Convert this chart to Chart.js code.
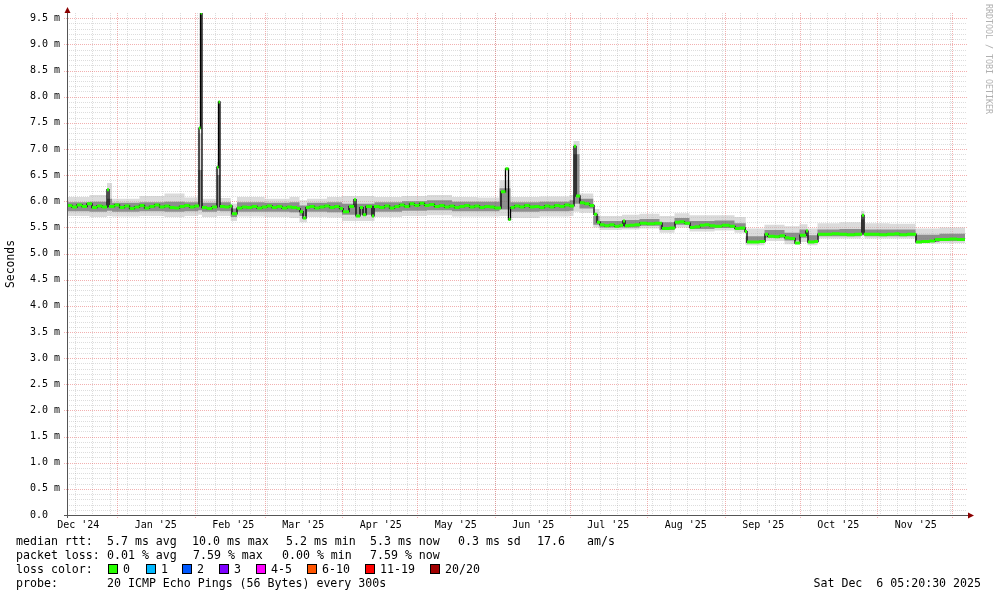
<!DOCTYPE html>
<html>
<head>
<meta charset="utf-8">
<script src="https://cdn.jsdelivr.net/npm/chart.js@4.4.1/dist/chart.umd.min.js"></script>
<style>
  html, body { margin: 0; padding: 0; background: #fff; }
  #wrap { width: 997px; height: 597px; }
</style>
</head>
<body>
<div id="wrap"><canvas id="rtt" width="997" height="597"></canvas></div>
<script>
// x values are days since 1 Dec 2024 (00:00)
const days = [
  11, 13, 15, 17, 19, 21, 23, 25, 27, 27.8,
  30, 32, 34, 36, 38, 40, 42, 44, 46, 48,
  50, 52, 54, 56, 58, 60, 62, 63.8, 64.4, 65,
  67, 69, 71, 71.6, 72.2, 74, 76, 77, 79, 81,
  83, 85, 87, 89, 91, 93, 95, 97, 99, 101,
  103, 104.2, 105.4, 106.6, 108, 110, 112, 114, 116, 118,
  120, 121.4, 123.8, 125.8, 126.6, 128.2, 129.4, 130.6, 133, 133.8,
  136, 138, 140, 142, 144, 146, 148, 150, 152, 154,
  156, 158, 160, 162, 164, 166, 168, 170, 172, 174,
  176, 178, 180, 182, 184.6, 186.4, 187.6, 188.4, 190, 192,
  194, 196, 198, 200, 202, 204, 206, 208, 210, 212,
  213.8, 214.6, 216.2, 218, 220, 221.8, 223, 224.2, 226, 228,
  230, 232, 233.4, 234.2, 236, 238, 240.2, 243, 246, 249,
  252, 254.2, 256, 258, 260.2, 262, 264.2, 266, 268, 270.2,
  273, 276, 278.2, 280, 282.2, 283, 286, 288, 290.2, 291.4,
  294, 296, 298.2, 300, 302.2, 304.2, 306.6, 307.4, 310, 311.4,
  314, 317, 320, 323, 326, 329, 329.8, 333, 336, 339,
  342, 344, 347, 350.6, 353, 356, 358.2, 361, 364, 367,
  370.2
];
// median rtt in ms
const medianMs = [
  5.92, 5.89, 5.93, 5.90, 5.95, 5.88, 5.91, 5.89, 6.22, 5.90,
  5.93, 5.88, 5.91, 5.86, 5.89, 5.92, 5.87, 5.90, 5.93, 5.89,
  5.91, 5.88, 5.87, 5.90, 5.92, 5.89, 5.91, 7.40, 9.60, 5.88,
  5.86, 5.89, 6.65, 7.90, 5.90, 5.89, 5.91, 5.76, 5.87, 5.89,
  5.88, 5.90, 5.87, 5.89, 5.91, 5.88, 5.90, 5.87, 5.89, 5.88,
  5.86, 5.80, 5.68, 5.88, 5.90, 5.87, 5.89, 5.91, 5.88, 5.90,
  5.86, 5.80, 5.90, 6.03, 5.72, 5.88, 5.74, 5.90, 5.72, 5.90,
  5.88, 5.91, 5.87, 5.90, 5.93, 5.90, 5.95, 5.92, 5.96, 5.92,
  5.94, 5.90, 5.92, 5.89, 5.91, 5.88, 5.90, 5.92, 5.89, 5.91,
  5.88, 5.90, 5.89, 5.87, 6.18, 6.62, 5.65, 5.88, 5.91, 5.89,
  5.92, 5.89, 5.90, 5.88, 5.91, 5.89, 5.92, 5.90, 5.93, 5.91,
  7.05, 6.10, 5.97, 5.95, 5.92, 5.75, 5.60, 5.55, 5.53, 5.55,
  5.52, 5.54, 5.62, 5.53, 5.54, 5.55, 5.58, 5.57, 5.58, 5.48,
  5.49, 5.60, 5.61, 5.58, 5.50, 5.51, 5.54, 5.55, 5.53, 5.52,
  5.54, 5.52, 5.48, 5.49, 5.42, 5.22, 5.22, 5.23, 5.37, 5.33,
  5.32, 5.34, 5.30, 5.29, 5.20, 5.35, 5.43, 5.22, 5.23, 5.37,
  5.37, 5.38, 5.37, 5.36, 5.37, 5.73, 5.37, 5.37, 5.36, 5.37,
  5.38, 5.36, 5.37, 5.22, 5.23, 5.24, 5.27, 5.27, 5.28, 5.27,
  5.27
];

// smoke (spread of the 20 pings), ms
const smokeDays = [
  11, 20, 27, 29, 40, 50, 58, 63.5, 65, 71,
  72.2, 76.5, 79, 90, 100, 104, 107, 115, 121, 134,
  145, 155, 165, 175, 184, 188.4, 200, 212, 213.6, 216,
  221.5, 224, 233, 240, 248, 254, 260, 270, 278, 282.5,
  290, 298, 304, 307.2, 311.2, 320, 328.6, 330, 340, 350.4,
  360, 370.2
];
const smokeMin = [
  5.72, 5.70, 5.72, 5.71, 5.72, 5.70, 5.72, 5.74, 5.70, 5.72,
  5.72, 5.62, 5.71, 5.70, 5.68, 5.60, 5.70, 5.69, 5.62, 5.70,
  5.72, 5.73, 5.71, 5.71, 5.72, 5.68, 5.71, 5.72, 5.80, 5.78,
  5.50, 5.45, 5.46, 5.48, 5.40, 5.50, 5.42, 5.44, 5.40, 5.16,
  5.24, 5.18, 5.22, 5.16, 5.29, 5.29, 5.33, 5.29, 5.29, 5.19,
  5.20, 5.20
];
const smokeLow = [
  5.81, 5.80, 5.82, 5.80, 5.81, 5.80, 5.81, 5.83, 5.80, 5.82,
  5.81, 5.70, 5.80, 5.80, 5.79, 5.72, 5.80, 5.79, 5.74, 5.80,
  5.82, 5.83, 5.81, 5.81, 5.84, 5.80, 5.81, 5.82, 5.95, 5.86,
  5.55, 5.50, 5.50, 5.53, 5.45, 5.55, 5.47, 5.49, 5.45, 5.20,
  5.30, 5.25, 5.30, 5.20, 5.33, 5.33, 5.40, 5.33, 5.33, 5.22,
  5.24, 5.24
];
const smokeHigh = [
  5.98, 5.99, 6.05, 5.97, 5.98, 5.99, 5.98, 6.60, 5.97, 6.50,
  5.98, 5.86, 5.98, 5.97, 5.98, 5.92, 5.97, 5.98, 5.95, 5.98,
  6.00, 6.02, 5.99, 5.99, 6.25, 5.98, 5.99, 6.02, 6.90, 6.05,
  5.72, 5.62, 5.64, 5.66, 5.60, 5.68, 5.62, 5.63, 5.58, 5.33,
  5.45, 5.40, 5.46, 5.35, 5.46, 5.47, 5.65, 5.46, 5.46, 5.36,
  5.38, 5.38
];
const smokeMax = [
  6.08, 6.12, 6.35, 6.05, 6.10, 6.15, 6.07, 7.30, 6.05, 6.75,
  6.06, 5.95, 6.08, 6.05, 6.08, 6.02, 6.05, 6.08, 6.10, 6.08,
  6.10, 6.12, 6.08, 6.07, 6.40, 6.08, 6.09, 6.12, 7.15, 6.15,
  5.85, 5.72, 5.74, 5.76, 5.72, 5.77, 5.73, 5.73, 5.70, 5.48,
  5.55, 5.52, 5.56, 5.48, 5.58, 5.60, 5.82, 5.58, 5.57, 5.48,
  5.50, 5.50
];

const monthStarts = [31, 62, 90, 121, 151, 182, 212, 243, 274, 304, 335, 365];
const labelDays = [15.5, 46.5, 77.5, 105.5, 136.5, 166.5, 197.5, 227.5, 258.5, 289.5, 319.5, 350.5];
const monthLabels = ["Dec '24", "Jan '25", "Feb '25", "Mar '25", "Apr '25", "May '25",
  "Jun '25", "Jul '25", "Aug '25", "Sep '25", "Oct '25", "Nov '25"];
const yTicks = [0, 0.5, 1, 1.5, 2, 2.5, 3, 3.5, 4, 4.5, 5, 5.5, 6, 6.5, 7, 7.5, 8, 8.5, 9, 9.5];
const yLabels = ['0.0  ', '0.5 m', '1.0 m', '1.5 m', '2.0 m', '2.5 m', '3.0 m', '3.5 m', '4.0 m', '4.5 m',
  '5.0 m', '5.5 m', '6.0 m', '6.5 m', '7.0 m', '7.5 m', '8.0 m', '8.5 m', '9.0 m', '9.5 m'];

const lossLabels = ['0', '1', '2', '3', '4-5', '6-10', '11-19', '20/20'];
const lossColors = ['#26ff00', '#00b8ff', '#0059ff', '#7e00ff', '#ff00ff', '#ff5500', '#ff0000', '#a10000'];

const MONO = '"DejaVu Sans Mono", monospace';

const pts = (xs, ys) => xs.map((d, i) => ({ x: d, y: ys[i] }));

// green loss-colour bars: only the flat part of each step
const greenPts = [];
for (let i = 0; i < days.length - 1; i++) {
  greenPts.push({ x: days[i], y: medianMs[i] }, { x: days[i + 1], y: medianMs[i] }, { x: days[i + 1], y: null });
}

const gridPlugin = {
  id: 'rrdGrid',
  beforeDatasetsDraw(chart) {
    const { ctx, chartArea: a, scales: { x, y } } = chart;
    ctx.save();
    ctx.lineWidth = 1;
    ctx.setLineDash([1, 1]);
    ctx.strokeStyle = 'rgba(150,150,150,0.32)';
    ctx.beginPath();
    for (let i = 1; i < 96; i++) {
      if (i % 5 === 0) continue;
      const py = Math.round(y.getPixelForValue(i / 10)) + 0.5;
      ctx.moveTo(a.left, py); ctx.lineTo(a.right, py);
    }
    for (let d = 14; d < x.max; d += 7) {
      const px = Math.round(x.getPixelForValue(d)) + 0.5;
      ctx.moveTo(px, a.top); ctx.lineTo(px, a.bottom);
    }
    ctx.stroke();

    ctx.strokeStyle = 'rgba(222,48,48,0.38)';
    ctx.beginPath();
    yTicks.forEach(v => {
      if (v === 0) return;
      const py = Math.round(y.getPixelForValue(v)) + 0.5;
      ctx.moveTo(a.left - 3, py); ctx.lineTo(a.right + 1, py);
    });
    monthStarts.forEach(d => {
      if (d <= x.min || d >= x.max) return;
      const px = Math.round(x.getPixelForValue(d)) + 0.5;
      ctx.moveTo(px, a.top); ctx.lineTo(px, a.bottom + 3);
    });
    ctx.stroke();
    ctx.restore();
  },
  afterDatasetsDraw(chart) {
    const { ctx, chartArea: a } = chart;
    ctx.save();
    ctx.setLineDash([]);
    ctx.lineWidth = 1;
    ctx.strokeStyle = '#555';
    ctx.beginPath();
    ctx.moveTo(a.left + 0.5, a.bottom + 3); ctx.lineTo(a.left + 0.5, 10);
    ctx.moveTo(a.left - 3, a.bottom + 0.5); ctx.lineTo(a.right + 3, a.bottom + 0.5);
    ctx.stroke();
    ctx.fillStyle = '#8b0000';
    ctx.beginPath();
    ctx.moveTo(a.left + 0.5, 7); ctx.lineTo(a.left - 2.5, 13); ctx.lineTo(a.left + 3.5, 13);
    ctx.closePath(); ctx.fill();
    ctx.beginPath();
    ctx.moveTo(a.right + 7, a.bottom + 0.5); ctx.lineTo(a.right + 1, a.bottom - 2.5); ctx.lineTo(a.right + 1, a.bottom + 3.5);
    ctx.closePath(); ctx.fill();
    ctx.restore();
  }
};

const textPlugin = {
  id: 'rrdText',
  afterDraw(chart) {
    const ctx = chart.ctx;
    ctx.save();
    ctx.fillStyle = '#000';

    // axis title
    ctx.save();
    ctx.translate(11, 264);
    ctx.rotate(-Math.PI / 2);
    ctx.font = '11.4px ' + MONO;
    ctx.textAlign = 'center';
    ctx.textBaseline = 'middle';
    ctx.fillText('Seconds', 0, 0);
    ctx.restore();

    // watermark
    ctx.save();
    ctx.translate(988, 4);
    ctx.rotate(Math.PI / 2);
    ctx.font = '8.3px ' + MONO;
    ctx.fillStyle = '#b0b0b0';
    ctx.textAlign = 'left';
    ctx.textBaseline = 'middle';
    ctx.fillText('RRDTOOL / TOBI OETIKER', 0, 0);
    ctx.restore();

    // legend
    ctx.font = '11.6px ' + MONO;
    ctx.textBaseline = 'alphabetic';
    ctx.textAlign = 'left';
    const rows = [
      [545, [[16, 'median rtt:'], [107, '5.7 ms avg'], [192, '10.0 ms max'], [286, '5.2 ms min'],
             [370, '5.3 ms now'], [458, '0.3 ms sd'], [537, '17.6'], [587, 'am/s']]],
      [559, [[16, 'packet loss:'], [107, '0.01 % avg'], [193, '7.59 % max'], [282, '0.00 % min'], [370, '7.59 % now']]],
      [573, [[16, 'loss color:']]],
      [587, [[16, 'probe:'], [107, '20 ICMP Echo Pings (56 Bytes) every 300s']]]
    ];
    rows.forEach(([by, segs]) => segs.forEach(([sx, t]) => ctx.fillText(t, sx, by)));

    const boxX = [108, 146, 182, 219, 256, 307, 365, 430];
    lossLabels.forEach((lab, i) => {
      ctx.fillStyle = '#000';
      ctx.fillRect(boxX[i], 564, 10, 10);
      ctx.fillStyle = lossColors[i];
      ctx.fillRect(boxX[i] + 1, 565, 8, 8);
      ctx.fillStyle = '#000';
      ctx.fillText(lab, boxX[i] + 15, 573);
    });

    ctx.textAlign = 'right';
    ctx.fillText('Sat Dec  6 05:20:30 2025', 981, 587);
    ctx.restore();
  }
};

const line = (data, extra) => Object.assign({
  data, pointRadius: 0, borderWidth: 1, borderColor: 'rgba(0,0,0,0)', fill: false, stepped: true
}, extra);

new Chart(document.getElementById('rtt').getContext('2d'), {
  type: 'line',
  data: {
    datasets: [
      line(greenPts, { stepped: false, borderColor: lossColors[0], borderWidth: 3, borderCapStyle: 'butt', spanGaps: false, order: 0 }),
      line(pts(days, medianMs), { borderColor: '#000', borderWidth: 1.3, order: 1 }),
      line(pts(smokeDays, smokeHigh), { fill: '+1', backgroundColor: 'rgba(95,95,95,0.62)', order: 2 }),
      line(pts(smokeDays, smokeLow), { order: 3 }),
      line(pts(smokeDays, smokeMax), { fill: '+1', backgroundColor: 'rgba(190,190,190,0.55)', order: 4 }),
      line(pts(smokeDays, smokeMin), { order: 5 })
    ]
  },
  options: {
    responsive: false,
    animation: false,
    devicePixelRatio: 1,
    events: [],
    layout: { padding: { top: 13, right: 30, left: 0, bottom: 0 } },
    plugins: { legend: { display: false }, tooltip: { enabled: false } },
    scales: {
      x: {
        type: 'linear', min: 11, max: 371,
        afterBuildTicks: s => { s.ticks = labelDays.map(v => ({ value: v })); },
        afterFit: s => { s.height = 82; },
        grid: { display: false, drawTicks: false },
        border: { display: false },
        ticks: { autoSkip: false, maxRotation: 0, padding: 4, color: '#000',
          font: { family: MONO, size: 10 }, callback: (v, i) => monthLabels[i] }
      },
      y: {
        type: 'linear', min: 0, max: 9.6,
        afterBuildTicks: s => { s.ticks = yTicks.map(v => ({ value: v })); },
        afterFit: s => { s.width = 67; },
        grid: { display: false, drawTicks: false },
        border: { display: false },
        ticks: { autoSkip: false, padding: 7, color: '#000',
          font: { family: MONO, size: 10 }, callback: (v, i) => yLabels[i] }
      }
    }
  },
  plugins: [gridPlugin, textPlugin]
});
</script>
</body>
</html>
